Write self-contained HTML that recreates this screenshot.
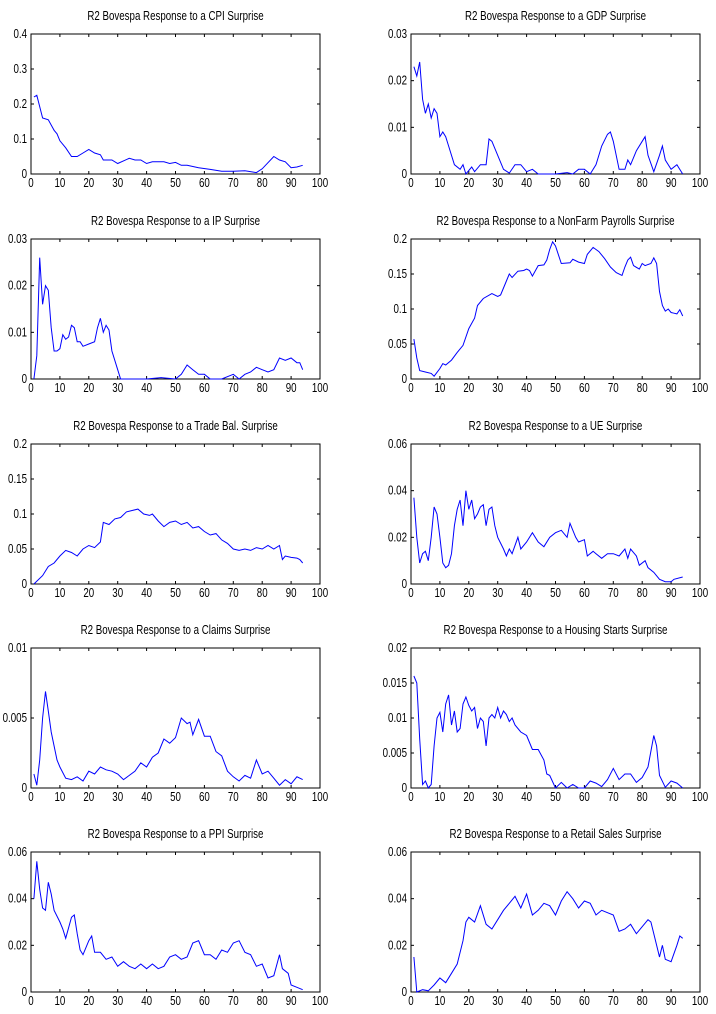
<!DOCTYPE html>
<html><head><meta charset="utf-8"><style>
html,body{margin:0;padding:0;background:#fff;}
svg{display:block;font-family:"Liberation Sans Narrow","Liberation Sans",sans-serif;}
</style></head><body>
<svg id="fig" width="716" height="1014" viewBox="0 0 716 1014"></svg>
<script>
const titles=["R2 Bovespa Response to a CPI Surprise","R2 Bovespa Response to a GDP Surprise","R2 Bovespa Response to a IP Surprise","R2 Bovespa Response to a NonFarm Payrolls Surprise","R2 Bovespa Response to a Trade Bal. Surprise","R2 Bovespa Response to a UE Surprise","R2 Bovespa Response to a Claims Surprise","R2 Bovespa Response to a Housing Starts Surprise","R2 Bovespa Response to a PPI Surprise","R2 Bovespa Response to a Retail Sales Surprise"];
const yMaxes=[0.4,0.03,0.03,0.2,0.2,0.06,0.01,0.02,0.06,0.06];
const yTickLabels=[["0","0.1","0.2","0.3","0.4"],["0","0.01","0.02","0.03"],["0","0.01","0.02","0.03"],["0","0.05","0.1","0.15","0.2"],["0","0.05","0.1","0.15","0.2"],["0","0.02","0.04","0.06"],["0","0.005","0.01"],["0","0.005","0.01","0.015","0.02"],["0","0.02","0.04","0.06"],["0","0.02","0.04","0.06"]];
const xTickLabels=["0","10","20","30","40","50","60","70","80","90","100"];
const cpiX=[1,2,4,6,8,9,10,12,14,16,18,20,22,24,25,28,30,34,36,38,40,42,46,48,50,52,54,58,62,66,70,74,78,80,84,86,88,90,92,94];
const cpiY=[0.22,0.225,0.16,0.155,0.125,0.115,0.095,0.075,0.05,0.05,0.06,0.07,0.06,0.055,0.04,0.04,0.03,0.045,0.04,0.04,0.03,0.035,0.035,0.03,0.033,0.025,0.025,0.018,0.013,0.008,0.008,0.009,0.004,0.015,0.05,0.04,0.035,0.018,0.02,0.025];
const gdpX=[1,2,3,4,5,6,7,8,9,10,11,12,13,15,17,18,19,21,22,24,26,27,28,30,32,34,36,38,40,42,44,50,54,56,58,60,62,64,66,68,69,70,72,74,75,76,78,80,81,82,84,86,87,88,90,92,94];
const gdpY=[0.023,0.021,0.024,0.016,0.013,0.015,0.012,0.014,0.013,0.008,0.009,0.008,0.006,0.002,0.001,0.002,0,0.0015,0.0005,0.002,0.002,0.0075,0.007,0.004,0.001,0.0002,0.002,0.002,0.0005,0.001,0,0,0.0003,0,0.001,0.001,0,0.002,0.006,0.0085,0.009,0.007,0.001,0.001,0.003,0.002,0.005,0.007,0.008,0.004,0.0005,0.004,0.006,0.003,0.001,0.002,0];
const ipX=[1,2,3,4,5,6,7,8,9,10,11,12,13,14,15,16,17,18,20,22,23,24,25,26,27,28,30,31,35,40,45,50,52,54,56,58,60,62,66,70,72,74,76,78,80,82,84,86,88,90,92,93,94];
const ipY=[0,0.005,0.026,0.016,0.02,0.019,0.011,0.006,0.006,0.0065,0.0095,0.0085,0.009,0.0115,0.011,0.008,0.008,0.007,0.0075,0.008,0.011,0.013,0.01,0.0115,0.0105,0.006,0.002,0,0,0,0.0003,0,0.001,0.003,0.002,0.001,0.001,0,0,0.001,0,0.001,0.0015,0.0025,0.002,0.0015,0.002,0.0045,0.004,0.0045,0.0035,0.0035,0.002];
const nfpX=[1,2,3,5,7,8,10,11,12,14,16,18,20,22,23,25,28,30,31,33,34,35,37,39,40,41,42,44,46,47,48,49,50,52,55,56,58,60,61,63,65,67,69,71,73,74,75,76,77,79,80,81,83,84,85,86,87,88,89,90,91,92,93,94];
const nfpY=[0.057,0.03,0.012,0.01,0.008,0.004,0.015,0.022,0.02,0.027,0.038,0.048,0.072,0.087,0.105,0.115,0.122,0.118,0.12,0.14,0.15,0.145,0.154,0.155,0.157,0.155,0.147,0.162,0.163,0.17,0.185,0.196,0.19,0.165,0.166,0.171,0.167,0.165,0.178,0.188,0.182,0.172,0.16,0.152,0.148,0.16,0.17,0.174,0.162,0.157,0.165,0.162,0.165,0.173,0.165,0.125,0.105,0.097,0.1,0.095,0.094,0.093,0.099,0.09];
const tbX=[1,4,6,8,10,12,14,16,18,20,22,24,25,27,29,31,33,35,37,39,41,42,44,46,48,50,52,54,56,58,60,62,64,66,68,70,72,74,76,78,80,82,84,86,87,88,90,92,93,94];
const tbY=[0,0.012,0.025,0.03,0.04,0.048,0.045,0.04,0.05,0.055,0.052,0.06,0.088,0.085,0.093,0.095,0.103,0.105,0.107,0.1,0.098,0.1,0.09,0.082,0.088,0.09,0.085,0.088,0.08,0.082,0.075,0.07,0.072,0.063,0.058,0.05,0.048,0.05,0.048,0.052,0.05,0.055,0.05,0.055,0.035,0.04,0.038,0.037,0.035,0.03];
const ueX=[1,2,3,4,5,6,7,8,9,10,11,12,13,14,15,16,17,18,19,20,21,22,23,24,25,26,27,28,29,30,32,33,34,35,37,38,40,42,44,46,48,50,52,54,55,57,58,60,61,63,64,66,68,70,72,74,75,76,78,79,81,82,84,86,88,90,91,94];
const ueY=[0.037,0.02,0.009,0.013,0.014,0.01,0.02,0.033,0.03,0.02,0.009,0.007,0.008,0.013,0.025,0.032,0.036,0.025,0.04,0.032,0.036,0.028,0.03,0.033,0.034,0.025,0.032,0.033,0.025,0.02,0.015,0.012,0.015,0.013,0.02,0.015,0.018,0.022,0.018,0.016,0.02,0.022,0.023,0.02,0.026,0.02,0.018,0.019,0.012,0.014,0.013,0.011,0.013,0.013,0.012,0.015,0.011,0.015,0.012,0.008,0.01,0.007,0.005,0.002,0.001,0.001,0.002,0.003];
const clX=[1,2,3,4,5,6,7,8,9,10,12,14,16,18,20,22,24,26,28,30,32,34,36,38,40,42,44,46,48,50,52,54,55,56,58,60,62,64,66,68,70,72,74,76,78,80,82,84,86,88,90,92,94];
const clY=[0.001,0.0002,0.002,0.005,0.0069,0.0055,0.004,0.003,0.002,0.0015,0.0007,0.0006,0.0008,0.0005,0.0012,0.001,0.0015,0.0013,0.0012,0.001,0.0006,0.0009,0.0012,0.0018,0.0015,0.0022,0.0025,0.0035,0.0032,0.0036,0.005,0.0046,0.0047,0.0038,0.0049,0.0037,0.0037,0.0026,0.0023,0.0012,0.0008,0.0005,0.0009,0.0007,0.002,0.001,0.0012,0.0007,0.0002,0.0006,0.0003,0.0008,0.0006];
const hsX=[1,2,3,4,5,6,7,8,9,10,11,12,13,14,15,16,17,18,19,20,21,22,23,24,25,26,27,28,29,30,31,32,33,34,35,36,38,40,42,44,46,47,48,50,52,54,56,58,60,62,64,66,68,70,72,74,76,78,80,82,84,85,86,88,90,92,94];
const hsY=[0.016,0.015,0.007,0.0005,0.001,0,0.0005,0.006,0.01,0.0108,0.008,0.012,0.0133,0.009,0.011,0.008,0.0085,0.012,0.013,0.0118,0.011,0.0115,0.0085,0.01,0.0095,0.006,0.01,0.0105,0.01,0.0115,0.01,0.011,0.0105,0.0095,0.01,0.009,0.008,0.0075,0.0055,0.0055,0.004,0.002,0.0018,0,0.0008,0,0.0005,0,0,0.001,0.0007,0.0002,0.0012,0.0028,0.0012,0.002,0.002,0.0008,0.0015,0.003,0.0075,0.006,0.0018,0.0001,0.001,0.0007,0];
const ppiX=[1,2,3,4,5,6,7,8,10,11,12,14,15,16,17,18,20,21,22,24,26,28,30,32,34,36,38,40,42,44,46,48,50,52,54,56,58,60,62,64,66,68,70,72,74,76,78,80,82,84,86,87,89,90,92,94];
const ppiY=[0.04,0.056,0.044,0.036,0.035,0.047,0.042,0.035,0.03,0.027,0.023,0.032,0.033,0.025,0.018,0.016,0.022,0.024,0.017,0.017,0.014,0.015,0.011,0.013,0.011,0.01,0.012,0.01,0.012,0.01,0.011,0.015,0.016,0.014,0.015,0.021,0.022,0.016,0.016,0.014,0.018,0.017,0.021,0.022,0.017,0.016,0.011,0.012,0.006,0.007,0.016,0.01,0.008,0.003,0.002,0.001];
const rsX=[1,2,4,6,8,10,12,14,16,18,19,20,22,24,26,28,30,32,34,36,38,40,42,44,46,48,50,52,54,56,58,60,62,64,66,68,70,72,74,76,78,80,82,83,84,86,87,88,90,92,93,94];
const rsY=[0.015,0,0.001,0.0005,0.003,0.006,0.004,0.008,0.012,0.022,0.03,0.032,0.03,0.037,0.029,0.027,0.031,0.035,0.038,0.041,0.036,0.042,0.033,0.035,0.038,0.037,0.033,0.039,0.043,0.04,0.036,0.039,0.038,0.033,0.035,0.034,0.033,0.026,0.027,0.029,0.025,0.028,0.031,0.03,0.025,0.015,0.02,0.014,0.013,0.02,0.024,0.023];
const seriesX=[cpiX,gdpX,ipX,nfpX,tbX,ueX,clX,hsX,ppiX,rsX];
const seriesY=[cpiY,gdpY,ipY,nfpY,tbY,ueY,clY,hsY,ppiY,rsY];
const names=["cpi","gdp","ip","nonfarm-payrolls","trade-balance","ue","claims","housing-starts","ppi","retail-sales"];

const NS="http://www.w3.org/2000/svg";
const svg=document.getElementById('fig');
function mk(tag,attrs,parent){const e=document.createElementNS(NS,tag);for(const k in attrs)e.setAttribute(k,attrs[k]);parent.appendChild(e);return e;}
function txt(x,y,anchor,size,parent){return mk('text',{x:0,y:0,'text-anchor':anchor,'font-size':size,transform:'translate('+x+','+y+') scale(0.78,1)'},parent);}
const lefts=[31,411], W=289, tops=[34,239,444,648,852], H=140;
for(let i=0;i<10;i++){
  const L=lefts[i%2], T=tops[Math.floor(i/2)], B=T+H, R=L+W;
  const g=mk('g',{},svg);
  
  
  const xs=v=>L+v/100*W, ys=v=>B-v/yMaxes[i]*H;
  const t=txt((L+R)/2,T-14,'middle','12.5',g);
  t.textContent=titles[i];
  
  
  const box=mk('rect',{x:L,y:T,width:W,height:H,fill:'none',stroke:'#000','stroke-width':'1'},g);
  
  
  xTickLabels.forEach(lab=>{
    const x=xs(+lab);
    mk('line',{x1:x,x2:x,y1:B,y2:B-3,stroke:'#000'},g);
    mk('line',{x1:x,x2:x,y1:T,y2:T+3,stroke:'#000'},g);
    const tx=txt(x,B+13,'middle','12.5',g);
    tx.textContent=lab;
    
    
  });
  yTickLabels[i].forEach(lab=>{
    const y=ys(+lab);
    mk('line',{x1:L,x2:L+3,y1:y,y2:y,stroke:'#000'},g);
    mk('line',{x1:R,x2:R-3,y1:y,y2:y,stroke:'#000'},g);
    const ty=txt(L-4,y+4,'end','12.5',g);
    ty.textContent=lab;
    
    
  });
  const pts=seriesX[i].map((x,k)=>xs(x).toFixed(1)+','+ys(seriesY[i][k]).toFixed(1)).join(' ');
  const pl=mk('polyline',{points:pts,fill:'none',stroke:'#0000ff','stroke-width':'1'},g);
  
  
}
</script>
</body></html>
